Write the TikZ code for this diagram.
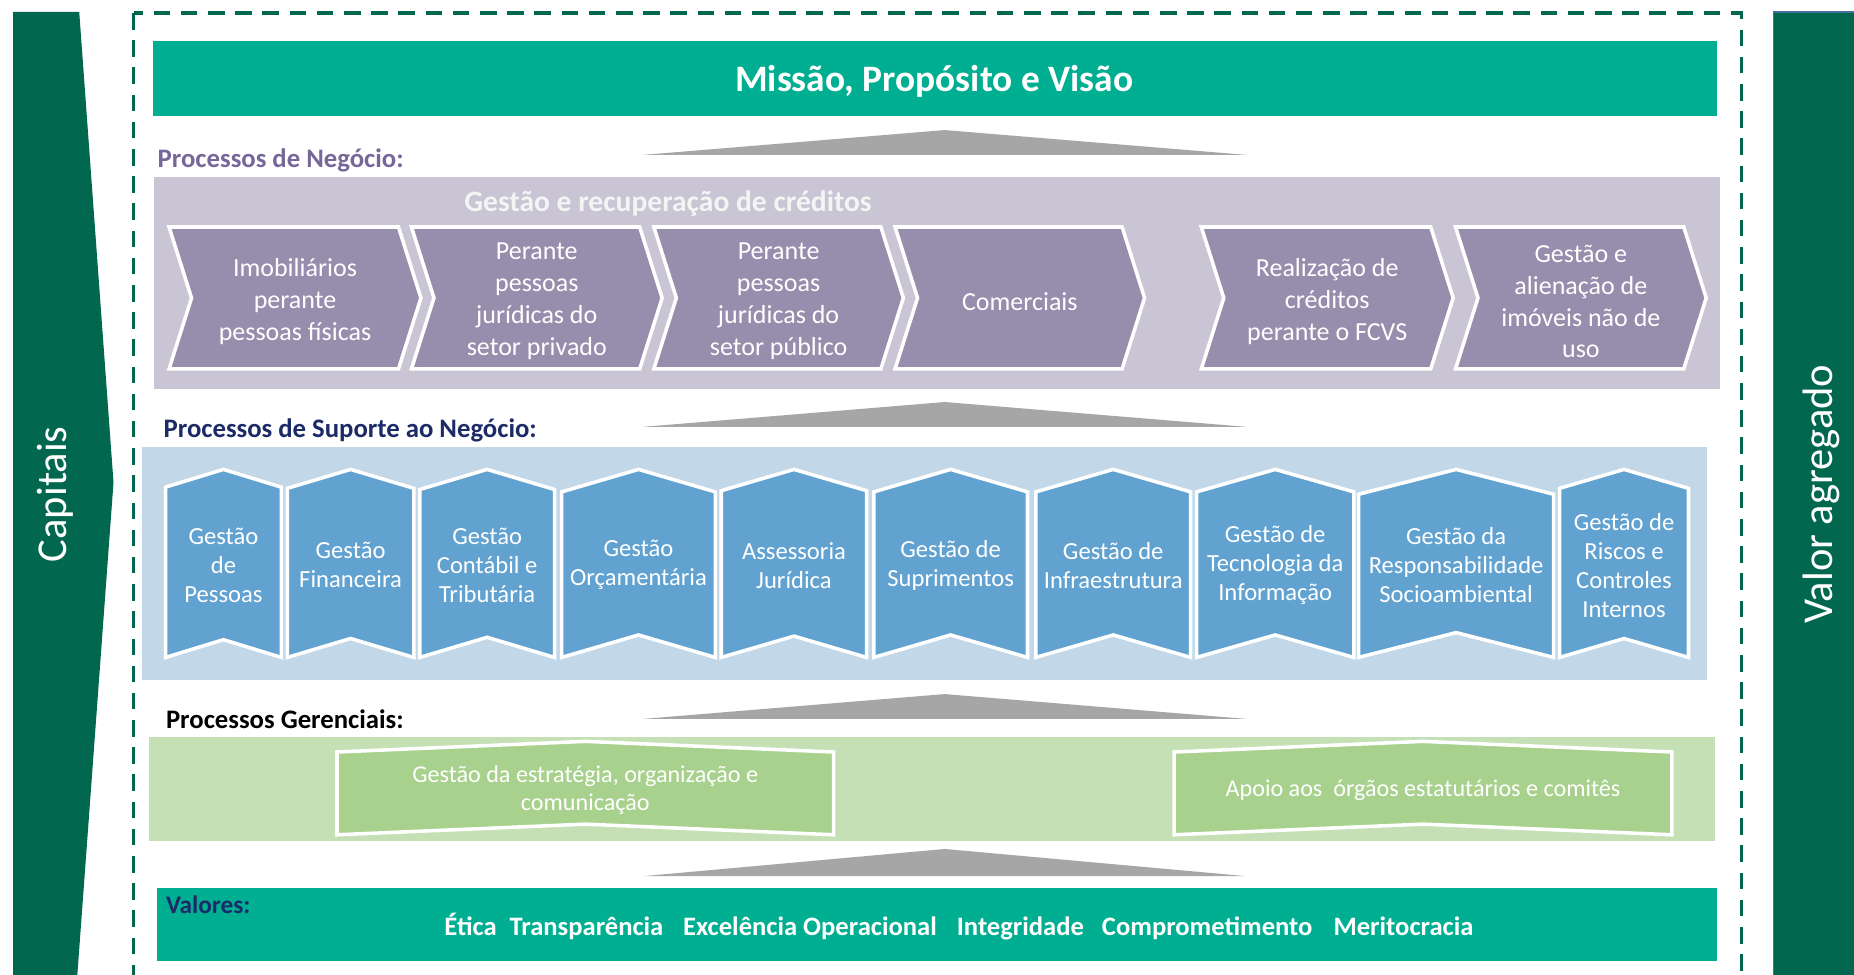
\documentclass[tikz,border=0pt]{standalone}
\usepackage{fontspec}
\setmainfont{Carlito}
\definecolor{darkgreen}{HTML}{02674F}
\definecolor{teal}{HTML}{00AE91}
\definecolor{purplepanel}{HTML}{C9C5D4}
\definecolor{purplefill}{HTML}{978DAC}
\definecolor{purplelabel}{HTML}{76679A}
\definecolor{bluepanel}{HTML}{C2D7E8}
\definecolor{bluefill}{HTML}{61A2D1}
\definecolor{navylabel}{HTML}{1C2A68}
\definecolor{greenpanel}{HTML}{C5E0B4}
\definecolor{greenfill}{HTML}{A9D18E}
\definecolor{graytri}{HTML}{A6A6A6}
\definecolor{barline}{HTML}{41719C}
\definecolor{offwhite}{HTML}{F4F4F4}
\tikzset{
  shapeline/.style={draw=white, line width=1.5pt, line join=miter},
  chevtxt/.style={text=white, font=\fontsize{11}{13.5}\selectfont, align=center, inner sep=0pt},
  bluetxt/.style={text=white, font=\fontsize{10.4}{12.25}\selectfont, align=center, inner sep=0pt},
  greentxt/.style={text=white, font=\fontsize{10.2}{12}\selectfont, align=center, inner sep=0pt},
  sectlabel/.style={font=\fontsize{11.3}{13}\selectfont\bfseries, anchor=west, inner sep=0pt},
  valtxt/.style={text=white, font=\fontsize{11.25}{13}\selectfont\bfseries, inner sep=0pt, anchor=base},
  sidetxt/.style={text=white, font=\fontsize{18}{20}\selectfont, rotate=90, inner sep=0pt},
}
\newcommand{\mychev}[4]{%
  \filldraw[fill=purplefill, shapeline] (#1,192) -- (#2,192) -- ({#2+19},252) -- (#2,312) -- (#1,312) -- ({#1+19},252) -- cycle;
  \node[chevtxt] (#3) at ({(#1+#2+19)/2},255) {#4};
}
\newcommand{\myblue}[5]{%
  \filldraw[fill=bluefill, shapeline] (#1,{397+#3}) -- ({(#1+#2)/2},397) -- (#2,{397+#3}) -- (#2,556) -- ({(#1+#2)/2},{556-#3}) -- (#1,556) -- cycle;
  \node[bluetxt] (#4) at ({(#1+#2)/2},478) {#5};
}
\newcommand{\mygreen}[4]{%
  \filldraw[fill=greenfill, shapeline] (#1,636) -- ({(#1+#2)/2},627) -- (#2,636) -- (#2,706) -- ({(#1+#2)/2},697) -- (#1,706) -- cycle;
  \node[greentxt] (#3) at ({(#1+#2)/2},668) {#4};
}
\newcommand{\mytri}[2]{%
  \fill[graytri] (544,#1) -- (799,#2) -- (1054,#1) -- cycle;
}
\begin{document}
\begin{tikzpicture}[x=0.5pt,y=-0.5pt]
\useasboundingbox (0,0) rectangle (1568,824);
\clip (0,0) rectangle (1568,824);
\fill[white] (0,0) rectangle (1568,824);

% side bars
\fill[darkgreen] (11,10) -- (67,10) -- (96,408) -- (65,830) -- (11,830) -- cycle;
\node[sidetxt] (capitais) at (47,418) {Capitais};
\filldraw[fill=darkgreen, draw=barline, line width=0.6pt] (1500,10) rectangle (1572,830);
\node[sidetxt] (valor) at (1540,418) {Valor agregado};

% dashed frame
\draw[darkgreen, line width=1.5pt, dash pattern=on 7pt off 4.5pt] (113,11) rectangle (1473,840);

% mission
\fill[teal] (129,35) rectangle (1452,98);
\node[text=white, font=\fontsize{15.8}{18}\selectfont\bfseries, inner sep=0pt, anchor=base] (missao) at (790,77) {Missão, Propósito e Visão};

% triangles
\mytri{131}{110}
\mytri{361}{340}
\mytri{608}{587}
\mytri{741}{718}

% business processes
\node[sectlabel, text=purplelabel] (negocio) at (133,136) {Processos de Negócio:};
\fill[purplepanel] (130,150) rectangle (1455,329);
\node[text=offwhite, font=\fontsize{12.5}{14}\selectfont\bfseries, inner sep=0pt] (gestaorec) at (565,172) {Gestão e recuperação de créditos};
\mychev{143}{337}{c1}{Imobiliários\\perante\\pessoas físicas}
\mychev{348}{541}{c2}{Perante\\pessoas\\jurídicas do\\setor privado}
\mychev{553}{745}{c3}{Perante\\pessoas\\jurídicas do\\setor público}
\mychev{757}{949}{c4}{Comerciais}
\mychev{1016}{1210}{c5}{Realização de\\créditos\\perante o FCVS}
\mychev{1231}{1424}{c6}{Gestão e\\alienação de\\imóveis não de\\uso}

% support processes
\node[sectlabel, text=navylabel] (suporte) at (138,364) {Processos de Suporte ao Negócio:};
\fill[bluepanel] (120,378) rectangle (1444,575);
\myblue{140}{238}{15}{b1}{Gestão\\de\\Pessoas}
\myblue{243}{350}{16}{b2}{Gestão\\Financeira}
\myblue{355}{469}{17}{b3}{Gestão\\Contábil e\\Tributária}
\myblue{475}{605}{19}{b4}{Gestão\\Orçamentária}
\myblue{610}{733}{18}{b5}{Assessoria\\Jurídica}
\myblue{739}{869}{19}{b6}{Gestão de\\Suprimentos}
\myblue{876}{1007}{19}{b7}{Gestão de\\Infraestrutura}
\myblue{1012}{1145}{19}{b8}{Gestão de\\Tecnologia da\\Informação}
\myblue{1149}{1314}{21}{b9}{Gestão da\\Responsabilidade\\Socioambiental}
\myblue{1319}{1428}{16}{b10}{Gestão de\\Riscos e\\Controles\\Internos}

% management processes
\node[sectlabel, text=black] (gerenciais) at (140,608) {Processos Gerenciais:};
\fill[greenpanel] (126,623) rectangle (1450,711);
\mygreen{285}{705}{g1}{Gestão da estratégia, organização e\\comunicação}
\mygreen{993}{1414}{g2}{Apoio aos~~órgãos estatutários e comitês}

% values
\fill[teal] (133,751) rectangle (1452,813);
\node[sectlabel, text=navylabel, font=\fontsize{10.7}{13}\selectfont\bfseries] (valores) at (140,765) {Valores:};
\node[valtxt] (v1) at (398,791) {Ética};
\node[valtxt] (v2) at (496,791) {Transparência};
\node[valtxt] (v3) at (685,791) {Excelência Operacional};
\node[valtxt] (v4) at (863,791) {Integridade};
\node[valtxt] (v5) at (1021,791) {Comprometimento};
\node[valtxt] (v6) at (1187,791) {Meritocracia};
\end{tikzpicture}
\end{document}
